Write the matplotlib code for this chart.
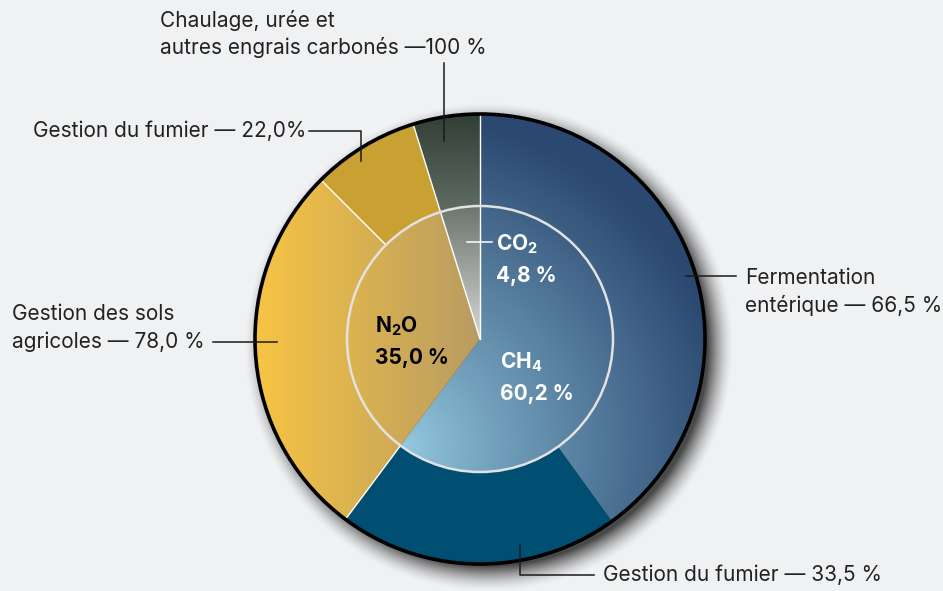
import numpy as np
import matplotlib.pyplot as plt
from matplotlib.patches import Wedge, Circle
from matplotlib.colors import to_rgb

plt.rcParams['font.family'] = ['Inter', 'DejaVu Sans']
plt.rcParams['mathtext.default'] = 'regular'

# === Data ===
gas_labels = ['CH$_4$', 'N$_2$O', 'CO$_2$']
gas_share = [60.2, 35.0, 4.8]
gas_value_text = ['60,2 %', '35,0 %', '4,8 %']

source_labels = ['Fermentation\nentérique — 66,5 %',
                 'Gestion du fumier — 33,5 %',
                 'Gestion des sols\nagricoles — 78,0 %',
                 'Gestion du fumier — 22,0%',
                 'Chaulage, urée et\nautres engrais carbonés —100 %']
source_share = [66.5, 33.5, 78.0, 22.0, 100.0]   # % within each gas
source_gas = [0, 0, 1, 1, 2]

# === Geometry (pixel coords, y down) ===
W, H = 943, 591
cx, cy = 480, 339
R_out, R_in = 225, 133
bg = '#f0f1f3'

fig = plt.figure(figsize=(W / 100, H / 100), dpi=100)
fig.patch.set_facecolor(bg)
ax = fig.add_axes([0, 0, 1, 1])
ax.set_xlim(0, W)
ax.set_ylim(H, 0)
ax.axis('off')
ax.set_facecolor(bg)

# angles: start at top, clockwise (y axis inverted -> increasing theta)
gas_edges = -90 + np.concatenate([[0], np.cumsum(gas_share)]) * 3.6
src_abs = [gas_share[g] * s / 100 for g, s in zip(source_gas, source_share)]
src_edges = -90 + np.concatenate([[0], np.cumsum(src_abs)]) * 3.6

xx, yy = np.meshgrid(np.arange(W) + 0.5, np.arange(H) + 0.5)


def lerp_img(t, c0, c1):
    t = np.clip(t, 0, 1)[..., None]
    a, b = np.array(to_rgb(c0)), np.array(to_rgb(c1))
    return a + (b - a) * t


# gradients
d_ch4 = np.hypot(xx - 405, yy - 445)
img_ch4 = lerp_img((d_ch4 / 330) ** 0.9, '#93c9df', '#2b4870')
img_n2o = lerp_img((xx - 254) / 226, '#f7c443', '#b89c62')
img_co2_out = lerp_img((yy - 113) / 93, '#303e35', '#5c6a62')
img_co2_in = lerp_img((yy - 206) / 132, '#6c766e', '#d6d6d2')

# drop shadow
d_sh = np.hypot(xx - (cx + 9), yy - (cy + 8))
alpha = np.clip((R_out + 20 - d_sh) / 26, 0, 1) ** 1.6 * 0.7
shadow = np.zeros((H, W, 4))
shadow[..., 3] = alpha
ax.imshow(shadow, extent=[0, W, H, 0], zorder=1, interpolation='bilinear')


def grad_wedge(r, t1, t2, img, width=None, z=2):
    w = Wedge((cx, cy), r, t1, t2, width=width, facecolor='none', edgecolor='none')
    ax.add_patch(w)
    im = ax.imshow(img, extent=[0, W, H, 0], zorder=z, interpolation='bilinear')
    im.set_clip_path(w)


ring = R_out - R_in
# outer ring
grad_wedge(R_out, src_edges[0], src_edges[1], img_ch4, ring)
ax.add_patch(Wedge((cx, cy), R_out, src_edges[1], src_edges[2], width=ring,
                   facecolor='#004f72', edgecolor='none', zorder=2))
grad_wedge(R_out, src_edges[2], src_edges[3], img_n2o, ring)
ax.add_patch(Wedge((cx, cy), R_out, src_edges[3], src_edges[4], width=ring,
                   facecolor='#c9a032', edgecolor='none', zorder=2))
grad_wedge(R_out, src_edges[4], src_edges[5], img_co2_out, ring)

# inner pie
grad_wedge(R_in, gas_edges[0], gas_edges[1], img_ch4)
grad_wedge(R_in, gas_edges[1], gas_edges[2], img_n2o)
grad_wedge(R_in, gas_edges[2], gas_edges[3], img_co2_in)

# white separators
for a, r0 in [(src_edges[2], R_in), (src_edges[3], R_in), (src_edges[4], 0), (-90, 0)]:
    th = np.radians(a)
    ax.plot([cx + r0 * np.cos(th), cx + R_out * np.cos(th)],
            [cy + r0 * np.sin(th), cy + R_out * np.sin(th)],
            color='white', lw=1.0, zorder=3)

ax.add_patch(Circle((cx, cy), R_in, facecolor='none', edgecolor='#e2e2e2', lw=1.8, zorder=4))
ax.add_patch(Circle((cx, cy), R_out, facecolor='none', edgecolor='black', lw=2.6, zorder=4))

# === Labels ===
tc = '#222222'
lc = '#1a1a1a'
fs = 15
ax.text(745, 292, source_labels[0], fontsize=fs, color=tc, va='center', ha='left', linespacing=1.4)
ax.plot([686, 736], [276, 276], color=lc, lw=1.1, zorder=5)

ax.text(603, 575, source_labels[1], fontsize=fs, color=tc, va='center', ha='left')
ax.plot([520, 520, 594], [545, 575, 575], color=lc, lw=1.1, zorder=5)

ax.text(12, 328, source_labels[2], fontsize=fs, color=tc, va='center', ha='left', linespacing=1.4)
ax.plot([213, 277], [342, 342], color=lc, lw=1.1, zorder=5)

ax.text(33, 131, source_labels[3], fontsize=fs, color=tc, va='center', ha='left')
ax.plot([309, 361, 361], [131, 131, 161], color=lc, lw=1.1, zorder=5)

ax.text(160, 34, source_labels[4], fontsize=fs, color=tc, va='center', ha='left', linespacing=1.4)
ax.plot([444, 444], [63, 141], color=lc, lw=1.1, zorder=5)

# inner labels
bfs = 15
ax.text(500, 362, gas_labels[0], fontsize=bfs, fontweight='bold', color='white', va='center')
ax.text(500, 394, gas_value_text[0], fontsize=bfs, fontweight='bold', color='white', va='center')
ax.text(375, 326, gas_labels[1], fontsize=bfs, fontweight='bold', color='black', va='center')
ax.text(375, 358, gas_value_text[1], fontsize=bfs, fontweight='bold', color='black', va='center')
ax.text(496, 244, gas_labels[2], fontsize=bfs, fontweight='bold', color='white', va='center')
ax.text(496, 276, gas_value_text[2], fontsize=bfs, fontweight='bold', color='white', va='center')
ax.plot([467, 492], [242, 242], color='white', lw=1.1, zorder=5)

fig.savefig('out.png', dpi=100, facecolor=bg)
